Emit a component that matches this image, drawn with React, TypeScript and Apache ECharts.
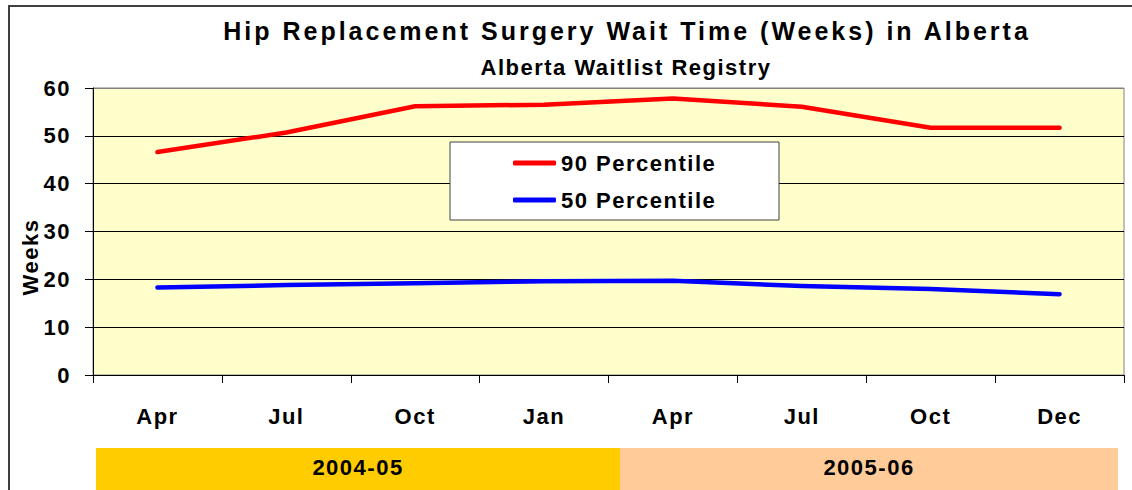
import React, { useEffect, useRef } from "react";
import * as echarts from "echarts";

const categories = ["Apr", "Jul", "Oct", "Jan", "Apr", "Jul", "Oct", "Dec"];
const p90 = [46.6, 50.7, 56.2, 56.5, 57.8, 56.1, 51.7, 51.7];
const p50 = [18.3, 18.8, 19.2, 19.6, 19.7, 18.6, 18.0, 16.9];
const seriesNames = ["90 Percentile", "50 Percentile"];
const fiscalYears = ["2004-05", "2005-06"];
const titleText = "Hip Replacement Surgery Wait Time (Weeks) in Alberta";
const subtitleText = "Alberta Waitlist Registry";
const axisName = "Weeks";

const FONT = "'Liberation Sans Narrow', 'Arial Narrow', 'Liberation Sans', Arial, sans-serif";
const FS = 22;

export default function App() {
  const ref = useRef<HTMLDivElement>(null);
  useEffect(() => {
    if (!ref.current) return;
    const chart = echarts.init(ref.current, null, { renderer: "svg" });
    const txt = (text: string, x: number, y: number, size: number, extra: any = {}) => ({
      type: "text",
      x,
      y,
      z: 20,
      style: {
        text,
        fill: "#000",
        font: `bold ${size}px ${FONT}`,
        textAlign: "center",
        textVerticalAlign: "middle",
      },
      ...extra,
    });
    chart.setOption({
      animation: false,
      backgroundColor: "#fff",
      grid: {
        left: 93,
        right: 8,
        top: 88,
        bottom: 115,
        show: true,
        backgroundColor: "#FFFFCC",
        borderColor: "#808080",
        borderWidth: 1,
      },
      legend: {
        left: 513,
        top: 152,
        z: 30,
        orient: "vertical",
        icon: "roundRect",
        itemWidth: 43,
        itemHeight: 5,
        itemGap: 15,
        padding: 0,
        data: seriesNames,
        textStyle: { fontFamily: FONT, fontWeight: "bold", fontSize: FS, color: "#000", padding: [0, 0, 0, 0] },
      },
      xAxis: {
        type: "category",
        data: categories,
        boundaryGap: true,
        axisLine: { lineStyle: { color: "#000", width: 1 } },
        axisTick: { show: true, length: 8, interval: 0, lineStyle: { color: "#000" } },
        axisLabel: {
          interval: 0,
          margin: 30,
          color: "#000",
          fontFamily: FONT,
          fontWeight: "bold",
          fontSize: FS,
          lineHeight: FS,
        },
        splitLine: { show: false },
      },
      yAxis: {
        type: "value",
        min: 0,
        max: 60,
        interval: 10,
        axisLine: { show: true, lineStyle: { color: "#000", width: 1 } },
        axisTick: { show: true, length: 8, lineStyle: { color: "#000" } },
        axisLabel: {
          margin: 22,
          color: "#000",
          fontFamily: FONT,
          fontWeight: "bold",
          fontSize: FS,
        },
        splitLine: {
          show: true,
          lineStyle: { color: ["#000", "#000", "#000", "#000", "#000", "#000", "#808080"], width: 1 },
        },
      },
      series: [
        {
          name: seriesNames[0],
          type: "line",
          data: p90,
          symbol: "none",
          lineStyle: { color: "#FF0000", width: 4.5, cap: "round", join: "round" },
          itemStyle: { color: "#FF0000" },
        },
        {
          name: seriesNames[1],
          type: "line",
          data: p50,
          symbol: "none",
          lineStyle: { color: "#0000FF", width: 4.5, cap: "round", join: "round" },
          itemStyle: { color: "#0000FF" },
        },
      ],
      graphic: [
        {
          type: "rect",
          shape: { x: 9, y: 6, width: 1140, height: 500 },
          style: { fill: "none", stroke: "#404040", lineWidth: 2 },
          z: 0,
          silent: true,
        },
        {
          type: "rect",
          shape: { x: 450, y: 142, width: 329, height: 78 },
          style: { fill: "#fff", stroke: "#404040", lineWidth: 1 },
          z: 3,
        },
        {
          type: "rect",
          shape: { x: 96, y: 448, width: 524, height: 50 },
          style: { fill: "#FFCC00" },
          z: 1,
        },
        {
          type: "rect",
          shape: { x: 620, y: 448, width: 498, height: 50 },
          style: { fill: "#FFCC99" },
          z: 1,
        },
        txt(fiscalYears[0], 358, 467, FS),
        txt(fiscalYears[1], 869, 467, FS),
        txt(titleText, 627, 31, 25),
        txt(subtitleText, 626, 67, FS),
        txt(axisName, 30, 257, FS, { rotation: Math.PI / 2 }),
      ],
    });
    return () => chart.dispose();
  }, []);
  return (
    <>
      <style>{`.chartbox text { letter-spacing: 1.5px; } .chartbox text[style*="25px"] { letter-spacing: 3px; }`}</style>
      <div
        ref={ref}
        className="chartbox"
        style={{ position: "fixed", left: 0, top: 0, width: 1132, height: 490 }}
      />
    </>
  );
}
